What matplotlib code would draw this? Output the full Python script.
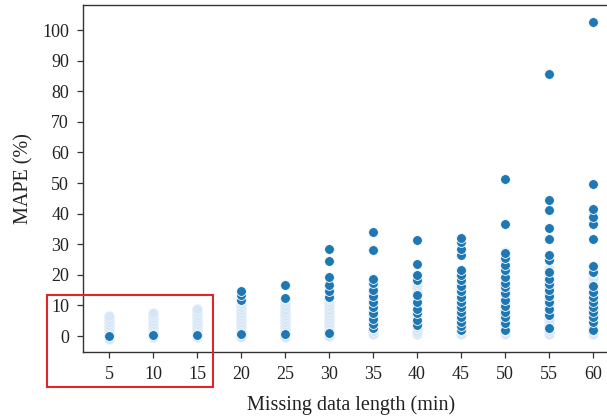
import matplotlib
matplotlib.use("Agg")
import matplotlib.pyplot as plt
from matplotlib.patches import Rectangle

plt.rcParams['font.family'] = ['Liberation Serif', 'DejaVu Serif']

categories = [5, 10, 15, 20, 25, 30, 35, 40, 45, 50, 55, 60]

# Distinct (visible) MAPE values per missing-data length
distinct = {
    5: [0.0],
    10: [0.5],
    15: [0.5],
    20: [0.6, 11.8, 13.4, 14.8],
    25: [0.6, 12.3, 16.7],
    30: [0.9, 12.9, 14.8, 16.7, 19.4, 24.5, 28.6],
    35: [2.5, 4.1, 5.5, 7.4, 9.6, 11.2, 13.1, 15.0, 17.2, 18.8, 28.1, 34.1],
    40: [3.6, 5.2, 7.4, 9.0, 11.2, 13.4, 18.3, 19.9, 23.4, 31.4],
    45: [2.0, 3.4, 4.7, 6.3, 7.9, 9.6, 11.2, 12.9, 14.7, 16.3, 18.3, 19.9,
         21.6, 26.5, 28.6, 30.6, 32.2],
    50: [2.0, 4.3, 6.1, 7.9, 9.8, 11.8, 14.0, 15.9, 17.4, 19.4, 21.6, 23.2,
         25.4, 27.0, 36.5, 51.5],
    55: [2.5, 6.9, 9.0, 11.2, 13.1, 15.0, 16.9, 18.8, 21.0, 24.8, 26.5,
         31.7, 35.4, 41.2, 44.4, 85.6],
    60: [2.0, 4.7, 6.3, 7.9, 9.6, 11.2, 12.9, 14.5, 16.3, 21.0, 22.9, 31.7,
         36.6, 39.0, 41.4, 49.6, 102.5],
}

# Dense (overlapping, light) MAPE values per missing-data length
dense = {
    5: [-0.8, 0.5, 1.5, 2.5, 3.5, 4.5, 5.5, 6.5],
    10: [-0.3, 1.0, 2.0, 3.0, 4.0, 5.0, 6.0, 7.0, 7.5],
    15: [-0.3, 1.0, 2.0, 3.0, 4.0, 5.0, 6.0, 7.0, 8.0, 9.0],
    20: [-0.2, 1.5, 2.5, 3.5, 4.5, 5.5, 6.5, 7.5, 8.5, 9.5, 10.5, 11.5],
    25: [-0.2, 1.5, 2.5, 3.5, 4.5, 5.5, 6.5, 7.5, 8.5, 9.8, 11.0, 12.0],
    30: [0.0, 1.5, 2.5, 3.5, 4.5, 5.5, 6.5, 7.5, 8.5, 9.8, 11.0, 12.0],
    35: [0.8, 1.5, 2.5, 3.5, 5.0, 6.5, 8.5, 10.5, 12.0, 14.0, 16.0, 18.0],
    40: [0.8, 1.4, 2.5, 4.5, 6.5, 8.0, 10.0, 12.5, 14.5, 16.1, 17.5],
    45: [0.8, 1.5, 2.5, 4.0, 5.5, 7.0, 9.0, 10.5, 12.0, 14.0, 15.5, 17.5, 20.0],
    50: [0.8, 1.5, 3.0, 5.0, 7.0, 9.0, 11.0, 13.0, 15.0, 17.0, 19.0, 21.0,
         23.0, 25.0, 27.5],
    55: [0.8, 1.5, 3.5, 4.5, 5.5, 8.0, 10.0, 12.0, 14.0, 16.0, 18.0, 20.0,
         22.0],
    60: [0.8, 1.5, 3.0, 5.5, 7.0, 9.0, 10.5, 12.0, 14.0, 15.5, 17.5, 19.0,
         20.5, 22.0],
}

fig = plt.figure(figsize=(6.07, 4.19), dpi=100)
ax = fig.add_axes([83/607, 67/419, 536/607, 347/419])

for i, c in enumerate(categories):
    d = dense[c]
    ax.scatter([i]*len(d), d, s=50, facecolor='#d6e6f4', edgecolor='#eaf2fa',
               linewidth=0.6, zorder=2)
for i, c in enumerate(categories):
    v = distinct[c]
    ax.scatter([i]*len(v), v, s=50, facecolor='#1f77b4', edgecolor='white',
               linewidth=0.6, zorder=3)

ax.set_xlim(-0.59, len(categories) - 1 + 0.59)
ax.set_ylim(-5.2, 108.2)
ax.set_xticks(range(len(categories)))
ax.set_xticklabels([str(c) for c in categories])
ax.set_yticks(range(0, 101, 10))
ax.tick_params(axis='both', labelsize=13, length=4, width=0.9, color='#333333',
               labelcolor='#222222', direction='out', pad=6)
for s in ['left', 'top', 'bottom', 'right']:
    ax.spines[s].set_color('#333333')
    ax.spines[s].set_linewidth(1.0)
ax.set_xlabel('Missing data length (min)', fontsize=14.5, color='#222222', labelpad=9)
ax.set_ylabel('MAPE (%)', fontsize=14.5, color='#222222', labelpad=6)

rect = Rectangle((47/607, (419-387)/419), (213-47)/607, (387-295)/419,
                 transform=fig.transFigure, fill=False, edgecolor='#e3242b',
                 linewidth=1.5, zorder=10)
fig.patches.append(rect)

fig.savefig('out.png', dpi=100)
